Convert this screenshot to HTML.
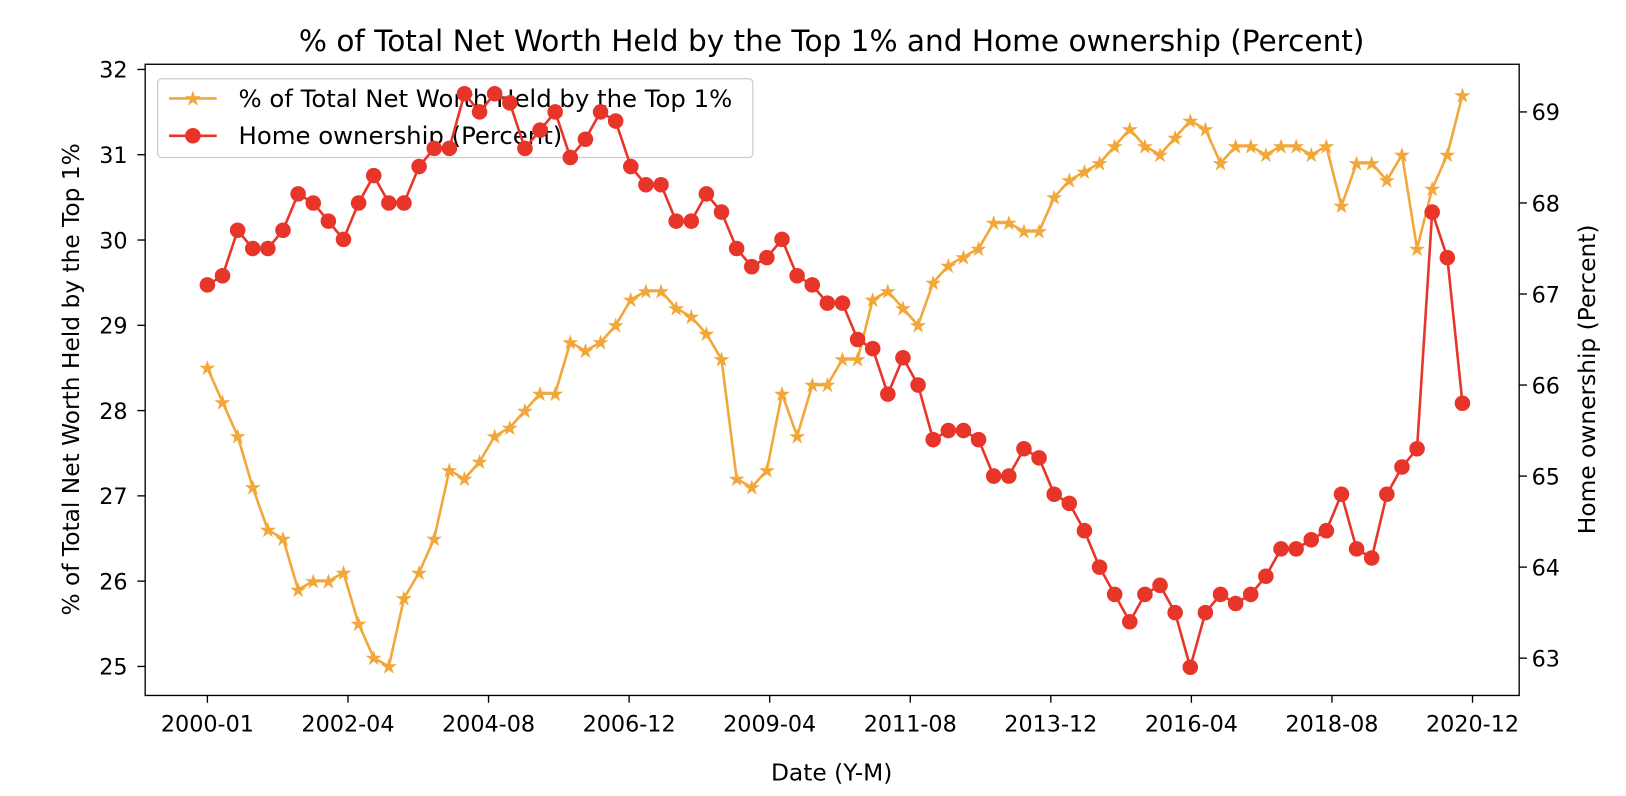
<!DOCTYPE html>
<html><head><meta charset="utf-8">
<style>
html,body{margin:0;padding:0;background:#fff;}
svg{display:block;font-family:"DejaVu Sans","Liberation Sans",sans-serif;}
</style></head>
<body>
<svg id="chart" width="1626" height="796" viewBox="0 0 1568 768" preserveAspectRatio="none">
<text x="802" y="49" text-anchor="middle" font-size="28.5" fill="#000">% of Total Net Worth Held by the Top 1% and Home ownership (Percent)</text>
<g id="series1"></g>
<g id="legend">
 <rect x="152" y="76" width="574" height="76" rx="4" fill="#fff" fill-opacity="0.8" stroke="#ccc" stroke-width="1.2"/>
 <g>
  <line x1="163" y1="95" x2="209" y2="95" stroke="#f2a73b" stroke-width="2.5"/>
  <text x="186" y="102" text-anchor="middle" font-size="20" fill="#f2a73b">★</text>
  <text x="230" y="103" font-size="23.5" fill="#000">% of Total Net Worth Held by the Top 1%</text>
 </g>
 <g>
  <line x1="163" y1="131" x2="209" y2="131" stroke="#e8352a" stroke-width="2.5"/>
  <circle cx="186" cy="131" r="7.5" fill="#e8352a"/>
  <text x="230" y="139" font-size="23.5" fill="#000">Home ownership (Percent)</text>
 </g>
</g>
<g id="series2"></g>
<g id="axes"></g>
<rect x="140" y="62" width="1325" height="609" fill="none" stroke="#000" stroke-width="1.3"/>
<text x="802" y="753" text-anchor="middle" font-size="22.5">Date (Y-M)</text>
<text transform="translate(76,366) rotate(-90)" text-anchor="middle" font-size="22.5">% of Total Net Worth Held by the Top 1%</text>
<text transform="translate(1538,366) rotate(-90)" text-anchor="middle" font-size="22.5">Home ownership (Percent)</text>
</svg>
<script>
const top1 = [28.5,28.1,27.7,27.1,26.6,26.5,25.9,26.0,26.0,26.1,25.5,25.1,25.0,25.8,26.1,26.5,27.3,27.2,27.4,27.7,27.8,28.0,28.2,28.2,28.8,28.7,28.8,29.0,29.3,29.4,29.4,29.2,29.1,28.9,28.6,27.2,27.1,27.3,28.2,27.7,28.3,28.3,28.6,28.6,29.3,29.4,29.2,29.0,29.5,29.7,29.8,29.9,30.2,30.2,30.1,30.1,30.5,30.7,30.8,30.9,31.1,31.3,31.1,31.0,31.2,31.4,31.3,30.9,31.1,31.1,31.0,31.1,31.1,31.0,31.1,30.4,30.9,30.9,30.7,31.0,29.9,30.6,31.0,31.7];
const homeOwn = [67.1,67.2,67.7,67.5,67.5,67.7,68.1,68.0,67.8,67.6,68.0,68.3,68.0,68.0,68.4,68.6,68.6,69.2,69.0,69.2,69.1,68.6,68.8,69.0,68.5,68.7,69.0,68.9,68.4,68.2,68.2,67.8,67.8,68.1,67.9,67.5,67.3,67.4,67.6,67.2,67.1,66.9,66.9,66.5,66.4,65.9,66.3,66.0,65.4,65.5,65.5,65.4,65.0,65.0,65.3,65.2,64.8,64.7,64.4,64.0,63.7,63.4,63.7,63.8,63.5,62.9,63.5,63.7,63.6,63.7,63.9,64.2,64.2,64.3,64.4,64.8,64.2,64.1,64.8,65.1,65.3,67.9,67.4,65.8];
const startMonth = 0; // 2000-01, quarterly step
const xTickLabels = ["2000-01","2002-04","2004-08","2006-12","2009-04","2011-08","2013-12","2016-04","2018-08","2020-12"];
const leftTicks = [25,26,27,28,29,30,31,32];
const rightTicks = [63,64,65,66,67,68,69];

const NS="http://www.w3.org/2000/svg";
function mk(tag,attrs,parent){const e=document.createElementNS(NS,tag);for(const k in attrs)e.setAttribute(k,attrs[k]);parent.appendChild(e);return e;}
const PX_PER_MONTH = 1220/251;
function xScale(m){return 200 + m*PX_PER_MONTH;}
function yLeft(v){return 643 - (v-25)*(576/7);}
function yRight(v){return 635 - (v-63)*(527/6);}

const s1=document.getElementById('series1'), s2=document.getElementById('series2'), ax=document.getElementById('axes');

let p1=top1.map((v,i)=>xScale(startMonth+i*3).toFixed(1)+","+yLeft(v).toFixed(1)).join(" ");
const l1=mk('polyline',{points:p1,fill:'none',stroke:'#f2a73b','stroke-width':2.5,'stroke-linejoin':'round'},s1);


top1.forEach((v,i)=>{
 const t=mk('text',{x:xScale(startMonth+i*3),y:yLeft(v)+7,'text-anchor':'middle','font-size':20,fill:'#f2a73b'},s1);
 t.textContent='★';
 
 
});

let p2=homeOwn.map((v,i)=>xScale(startMonth+i*3).toFixed(1)+","+yRight(v).toFixed(1)).join(" ");
const l2=mk('polyline',{points:p2,fill:'none',stroke:'#e8352a','stroke-width':2.5,'stroke-linejoin':'round'},s2);


homeOwn.forEach((v,i)=>{
 const c=mk('circle',{cx:xScale(startMonth+i*3),cy:yRight(v),r:7.5,fill:'#e8352a'},s2);
 
 
});

xTickLabels.forEach((lab,i)=>{
 const x=200+i*(1220/(xTickLabels.length-1));
 mk('line',{x1:x,y1:671,x2:x,y2:678,stroke:'#000','stroke-width':1.3},ax);
 const t=mk('text',{x:x,y:706,'text-anchor':'middle','font-size':21.5},ax);
 t.textContent=lab;
 
 
});
leftTicks.forEach(v=>{
 const y=yLeft(v);
 mk('line',{x1:132.5,y1:y,x2:140,y2:y,stroke:'#000','stroke-width':1.3},ax);
 const t=mk('text',{x:123,y:y+8,'text-anchor':'end','font-size':21.5},ax);
 t.textContent=v;
 
 
});
rightTicks.forEach(v=>{
 const y=yRight(v);
 mk('line',{x1:1465,y1:y,x2:1472.5,y2:y,stroke:'#000','stroke-width':1.3},ax);
 const t=mk('text',{x:1477,y:y+8,'text-anchor':'start','font-size':21.5},ax);
 t.textContent=v;
 
 
});
</script>
</body></html>
